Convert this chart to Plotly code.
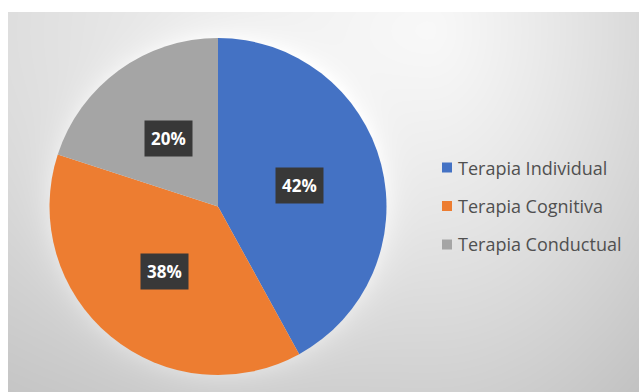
import numpy as np
import plotly.graph_objects as go

# Chart data
categories = ["Terapia Individual", "Terapia Cognitiva", "Terapia Conductual"]
values = [42, 38, 20]
colors = ["#4472c4", "#ed7d31", "#a5a5a5"]

W, H = 639, 392
# Chart area (pixels) and pie geometry
AREA_X0, AREA_Y0 = 8, 12
CX, CY, R = 218.0, 206.5, 168.5

fig = go.Figure()

# Soft grey background gradient with a light glow around the pie
gx = np.linspace(AREA_X0, W, 90)
gy = np.linspace(AREA_Y0, H, 60)
X, Y = np.meshgrid(gx, gy)
dx = X - 430.0
dy = Y - 30.0
sx = np.where(dx > 0, dx / 300.0, dx / 700.0)
d = np.sqrt(sx ** 2 + (dy / 420.0) ** 2)
L = 248.0 - 48.0 * d ** 1.2
rp = np.sqrt((X - CX) ** 2 + (Y - CY) ** 2)
glow = np.where(rp > R, 14.0 * np.exp(-(rp - R) / 12.0), 14.0)
L = np.clip(L + glow, 0, 255)

fig.add_trace(go.Heatmap(
    x=gx, y=gy, z=L, zmin=0, zmax=255, zsmooth="best",
    colorscale=[[0, "rgb(0,0,0)"], [1, "rgb(255,255,255)"]],
    showscale=False, hoverinfo="skip",
))

fig.add_trace(go.Pie(
    labels=categories, values=values, sort=False, direction="clockwise",
    rotation=0, marker=dict(colors=colors, line=dict(width=0)),
    textinfo="none", showlegend=False, hole=0,
    domain=dict(x=[(CX - R) / W, (CX + R) / W],
                y=[1 - (CY + R) / H, 1 - (CY - R) / H]),
))

# Percentage labels placed at half radius along each slice's mid-angle
total = float(sum(values))
cum = 0.0
annotations = []
for v in values:
    mid = (cum + v / 2.0) / total * 2 * np.pi
    cum += v
    px = CX + 0.5 * R * np.sin(mid)
    py = CY - 0.5 * R * np.cos(mid)
    annotations.append(dict(
        x=px / W, y=1 - py / H, xref="paper", yref="paper",
        text=f"<b>{round(v / total * 100)}%</b>", showarrow=False,
        font=dict(family="Open Sans", size=17, color="white"),
        bgcolor="#383838", borderpad=6, xanchor="center", yanchor="middle",
    ))

# Legend: coloured squares with category names
shapes = []
LEG_X, LEG_Y0, LEG_DY, SQ = 442, 167.5, 38.5, 10
for i, (cat, col) in enumerate(zip(categories, colors)):
    yc = LEG_Y0 + i * LEG_DY
    shapes.append(dict(
        type="rect", xref="paper", yref="paper",
        x0=LEG_X / W, x1=(LEG_X + SQ) / W,
        y0=1 - (yc + SQ / 2) / H, y1=1 - (yc - SQ / 2) / H,
        fillcolor=col, line=dict(width=0),
    ))
    annotations.append(dict(
        x=(LEG_X + SQ + 4) / W, y=1 - yc / H, xref="paper", yref="paper",
        text=cat, showarrow=False, xanchor="left", yanchor="middle",
        font=dict(family="Open Sans", size=18, color="#505050"),
    ))

fig.update_layout(
    width=W, height=H, margin=dict(l=0, r=0, t=0, b=0),
    paper_bgcolor="white", plot_bgcolor="white",
    xaxis=dict(domain=[AREA_X0 / W, 1], range=[AREA_X0, W], visible=False,
               fixedrange=True),
    yaxis=dict(domain=[0, 1 - AREA_Y0 / H], range=[H, AREA_Y0], visible=False,
               fixedrange=True),
    annotations=annotations, shapes=shapes, showlegend=False,
)

fig.write_html("out.html")
